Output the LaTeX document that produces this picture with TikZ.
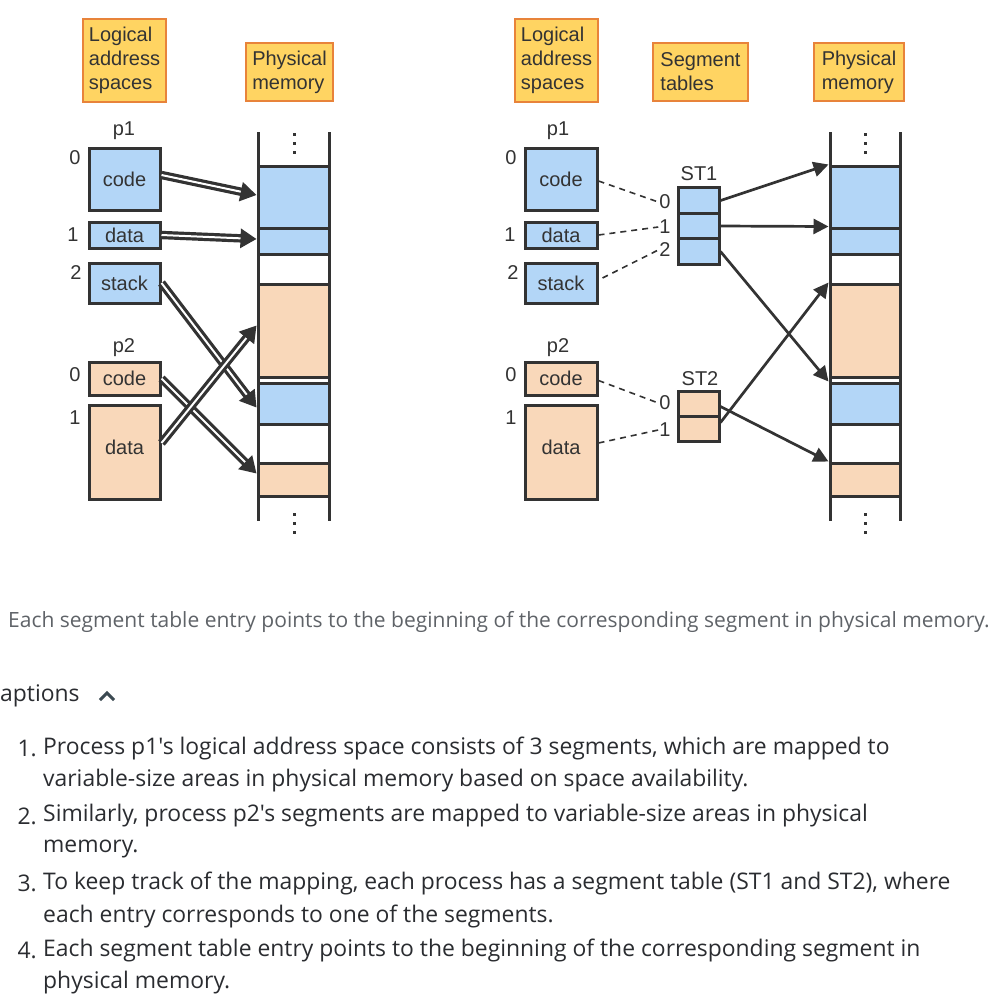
\documentclass[tikz,border=0pt]{standalone}
\usepackage{fontspec}
\setmainfont{Liberation Sans}[Ligatures=TeXOff]
\newfontfamily\txtfont{Open Sans}[Ligatures=TeXOff]
\usetikzlibrary{arrows.meta,calc}
\definecolor{dk}{HTML}{333333}
\definecolor{bl}{HTML}{B3D6F7}
\definecolor{pc}{HTML}{F9D8BA}
\definecolor{hf}{HTML}{FFD462}
\definecolor{hb}{HTML}{E8833A}
\definecolor{capc}{HTML}{5F6368}
\definecolor{txt}{HTML}{2A2C30}
\definecolor{chev}{HTML}{3C4A52}
\begin{document}
\begin{tikzpicture}[x=1pt,y=-1pt,
  every node/.style={font=\fontsize{20}{24}\selectfont, text=dk},
  hdr/.style={draw=hb, fill=hf, line width=2.5pt, align=left, inner sep=0pt},
  bseg/.style={draw=dk, fill=bl, line width=3pt, minimum width=71pt, inner sep=0pt},
  pseg/.style={bseg, fill=pc},
  num/.style={inner sep=1pt},
  col/.style={draw=dk, line width=3pt},
  dbl/.style={draw=dk, line width=3.2pt, double=white, double distance=2pt, -{Triangle[length=16pt,width=19pt]}},
  arr/.style={draw=dk, line width=2.7pt, -{Triangle[length=15pt,width=15pt]}},
  dsh/.style={draw=dk, line width=1.6pt, dash pattern=on 6pt off 5pt},
  capt/.style={font=\txtfont\fontsize{21}{24}\selectfont, text=capc, anchor=west, inner sep=0pt},
  lst/.style={font=\txtfont\fontsize{22.9}{26}\selectfont, text=txt, anchor=west, inner sep=0pt},
  lnum/.style={lst, anchor=east}
]
\useasboundingbox (0,0) rectangle (1000,997);

% ================= LEFT DIAGRAM =================
\node[hdr, minimum width=83pt, minimum height=83pt] (lh1) at (124.5,60.5) {Logical\\address\\spaces};
\node[hdr, minimum width=87pt, minimum height=58pt] (lh2) at (289.5,72) {Physical\\memory};

\node (lp1) at (124,131) {p1};
\node[bseg, minimum height=62pt] (lc1) at (124.5,179) {code};
\node[bseg, minimum height=26pt] (ld1) at (124.5,235) {data};
\node[bseg, minimum height=40pt] (ls1) at (124.5,283) {stack};
\node[num] (ln10) at (75,158) {0};
\node[num] (ln11) at (73,235) {1};
\node[num] (ln12) at (76,273) {2};

\node (lp2) at (124,348) {p2};
\node[pseg, minimum height=33pt] (lc2) at (124.5,378.5) {code};
\node[pseg, minimum height=94pt] (ld2) at (124.5,452) {\raisebox{9pt}{data}};
\node[num] (ln20) at (75,375) {0};
\node[num] (ln21) at (75,418) {1};

% memory column
\node[bseg, minimum height=62pt] (la1) at (293.5,197) {};
\node[bseg, minimum height=26pt] (la2) at (293.5,241) {};
\node[pseg, minimum height=93pt] (la3) at (293.5,330.5) {};
\node[bseg, minimum height=41pt] (la4) at (293.5,403.5) {};
\node[pseg, minimum height=33pt] (la5) at (293.5,479.5) {};
\draw[col] (258,132) -- (258,521);
\draw[col] (329,132) -- (329,521);
\foreach \y in {134,143,152,514,523,532}
  \fill[dk] (292.5,{\y-1.5}) rectangle +(3.2,3.2);

% double arrows
\draw[dbl] ($(lc1.east)+(0,-4)$) -- ($(la1.west)+(0,-2)$);
\draw[dbl] (ld1.east) -- ($(la2.west)+(0,-2)$);
\draw[dbl] (ls1.east) -- ($(la4.west)+(0,4)$);
\draw[dbl] (lc2.east) -- ($(la5.west)+(0,-6)$);
\draw[dbl] ($(ld2.east)+(0,-9)$) -- ($(la3.west)+(0,-5)$);

% ================= RIGHT DIAGRAM =================
\node[hdr, minimum width=83pt, minimum height=83pt] (rh1) at (556.5,60.5) {Logical\\address\\spaces};
\node[hdr, minimum width=95pt, minimum height=58pt] (rh2) at (700.5,72) {Segment\\tables};
\node[hdr, minimum width=90pt, minimum height=58pt] (rh3) at (859,72) {Physical\\memory};

\node (rp1) at (558,131) {p1};
\node[bseg, minimum width=72pt, minimum height=62pt] (rc1) at (561,179) {code};
\node[bseg, minimum width=72pt, minimum height=26pt] (rd1) at (561,235) {data};
\node[bseg, minimum width=72pt, minimum height=40pt] (rs1) at (561,283) {stack};
\node[num] (rn10) at (511,158) {0};
\node[num] (rn11) at (510,235) {1};
\node[num] (rn12) at (513,273) {2};

\node (rp2) at (558,348) {p2};
\node[pseg, minimum width=72pt, minimum height=33pt] (rc2) at (561,378.5) {code};
\node[pseg, minimum width=72pt, minimum height=94pt] (rd2) at (561,452) {\raisebox{9pt}{data}};
\node[num] (rn20) at (511,375) {0};
\node[num] (rn21) at (511,418) {1};

% segment tables
\node (st1) at (699,174) {ST1};
\node[bseg, minimum width=41pt, minimum height=25.5pt] (s10) at (698.5,200.5) {};
\node[bseg, minimum width=41pt, minimum height=25.5pt] (s11) at (698.5,226) {};
\node[bseg, minimum width=41pt, minimum height=25.5pt] (s12) at (698.5,251.5) {};
\node[num] (e10) at (665,202) {0};
\node[num] (e11) at (665,227) {1};
\node[num] (e12) at (665,250) {2};

\node (st2) at (700,379) {ST2};
\node[pseg, minimum width=41pt, minimum height=25pt] (s20) at (698.5,403.5) {};
\node[pseg, minimum width=41pt, minimum height=25pt] (s21) at (698.5,428.5) {};
\node[num] (e20) at (665,403) {0};
\node[num] (e21) at (665,430) {1};

% memory column
\node[bseg, minimum width=70pt, minimum height=62pt] (ra1) at (865,197) {};
\node[bseg, minimum width=70pt, minimum height=26pt] (ra2) at (865,241) {};
\node[pseg, minimum width=70pt, minimum height=93pt] (ra3) at (865,330.5) {};
\node[bseg, minimum width=70pt, minimum height=41pt] (ra4) at (865,403.5) {};
\node[pseg, minimum width=70pt, minimum height=33pt] (ra5) at (865,479.5) {};
\draw[col] (830,132) -- (830,521);
\draw[col] (900,132) -- (900,521);
\foreach \y in {134,143,152,514,523,532}
  \fill[dk] (864,{\y-1.5}) rectangle +(3.2,3.2);

% dashed links
\draw[dsh] ($(rc1.east)+(0,2)$) -- (e10.west);
\draw[dsh] (rd1.east) -- (e11.west);
\draw[dsh] ($(rs1.east)+(4,-5)$) -- (e12.west);
\draw[dsh] ($(rc2.east)+(0,2)$) -- (e20.west);
\draw[dsh] ($(rd2.east)+(0,-9)$) -- (e21.west);

% pointers
\draw[arr] (s10.east) -- (ra1.north west);
\draw[arr] (s11.east) -- (ra2.north west);
\draw[arr] (s12.east) -- (ra4.north west);
\draw[arr] ($(s20.east)+(0,3)$) -- (ra5.north west);
\draw[arr] ($(s21.east)+(0,-6)$) -- (ra3.north west);

% ================= TEXT =================
\node[capt] (cap) at (8,622) {Each segment table entry points to the beginning of the corresponding segment in physical memory.};
\node[lst] (capt2) at (0,696) {aptions};
\coordinate (chv) at (107,696);
\draw[chev, line width=3pt] ($(chv)+(-7,4)$) -- ($(chv)+(0,-3)$) -- ($(chv)+(7,4)$);

\node[lnum] (n1) at (37,748) {1.};
\node[lst] (t1a) at (43,748) {Process p1's logical address space consists of 3 segments, which are mapped to};
\node[lst] (t1b) at (43,781) {variable-size areas in physical memory based on space availability.};
\node[lnum] (n2) at (37,816) {2.};
\node[lst] (t2a) at (43,816) {Similarly, process p2's segments are mapped to variable-size areas in physical};
\node[lst] (t2b) at (43,849) {memory.};
\node[lnum] (n3) at (37,883) {3.};
\node[lst] (t3a) at (43,883) {To keep track of the mapping, each process has a segment table (ST1 and ST2), where};
\node[lst] (t3b) at (43,916) {each entry corresponds to one of the segments.};
\node[lnum] (n4) at (37,950) {4.};
\node[lst] (t4a) at (43,950) {Each segment table entry points to the beginning of the corresponding segment in};
\node[lst] (t4b) at (43,983) {physical memory.};
\end{tikzpicture}
\end{document}
